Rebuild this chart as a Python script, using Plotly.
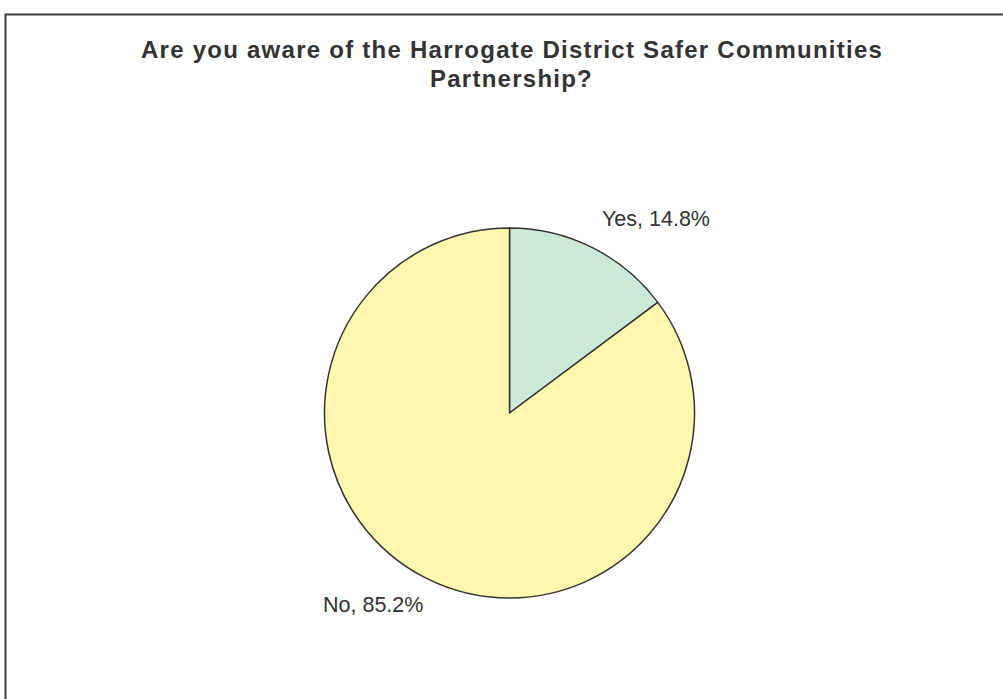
import plotly.graph_objects as go

# ---- data ----
categories = ["Yes", "No"]
percentages = [14.8, 85.2]
slice_colors = ["#CCE8D7", "#FFF7AE"]
title_lines = ["Are you aware of the Harrogate District Safer Communities", "Partnership?"]

W, H = 1003, 699
TEXT = "#333333"

fig = go.Figure()
fig.add_trace(go.Pie(
    labels=categories,
    values=percentages,
    sort=False,
    direction="clockwise",
    rotation=0,
    marker=dict(colors=slice_colors, line=dict(color="#333333", width=1.5)),
    textinfo="none",
    hoverinfo="label+percent",
    showlegend=False,
    domain=dict(x=[324.5 / W, 694.5 / W], y=[(H - 598) / H, (H - 228) / H]),
))

# data labels (text built from the data arrays)
label_pos = {"Yes": (655.5 / W, 1 - 218.5 / H), "No": (372.5 / W, 1 - 605 / H)}
annotations = []
for cat, val in zip(categories, percentages):
    x, y = label_pos[cat]
    annotations.append(dict(
        text=f"{cat}, {val:.1f}%", x=x, y=y, xref="paper", yref="paper",
        xanchor="center", yanchor="middle", showarrow=False,
        font=dict(family="Liberation Sans, Arial, sans-serif", size=21.5, color=TEXT),
    ))

# title lines
title_y = [49, 78.5]
for line, ty in zip(title_lines, title_y):
    annotations.append(dict(
        text=f'<span style="letter-spacing:1.25px"><b>{line}</b></span>',
        x=512 / W, y=1 - ty / H, xref="paper", yref="paper",
        xanchor="center", yanchor="middle", showarrow=False,
        font=dict(family="Liberation Sans, Arial, sans-serif", size=24, color=TEXT),
    ))

fig.update_layout(
    width=W, height=H,
    margin=dict(l=0, r=0, t=0, b=0),
    paper_bgcolor="white",
    plot_bgcolor="white",
    annotations=annotations,
    shapes=[dict(
        type="rect", xref="paper", yref="paper",
        x0=5.5 / W, x1=1.02, y0=-0.02, y1=1 - 14.5 / H,
        line=dict(color="#404040", width=2), fillcolor="rgba(0,0,0,0)",
    )],
)

fig.write_html(
    "out.html",
    config={"displayModeBar": False},
    post_script="document.body.style.margin='0';document.body.style.overflow='hidden';",
)
